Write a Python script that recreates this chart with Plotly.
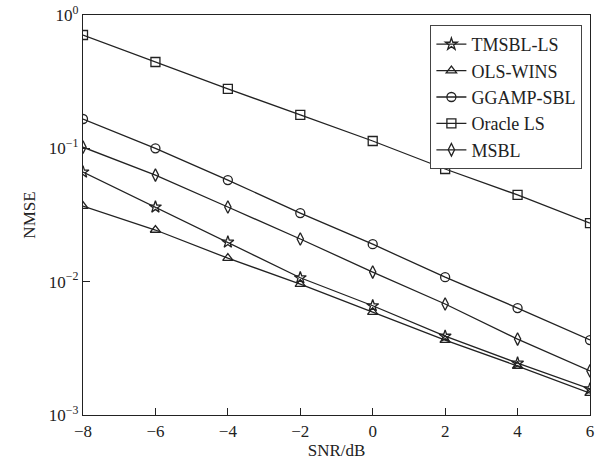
import plotly.graph_objects as go

snr = [-8, -6, -4, -2, 0, 2, 4, 6]
tmsbl_ls = [0.0664, 0.0363, 0.0198, 0.0107, 0.0066, 0.0039, 0.00245, 0.00157]
ols_wins = [0.0369, 0.0244, 0.0150, 0.0096, 0.0059, 0.00365, 0.00233, 0.00146]
ggamp_sbl = [0.166, 0.100, 0.0578, 0.0327, 0.0191, 0.0108, 0.00634, 0.00365]
oracle_ls = [0.708, 0.444, 0.279, 0.178, 0.1135, 0.070, 0.0447, 0.0275]
msbl = [0.102, 0.063, 0.0363, 0.0209, 0.0118, 0.0068, 0.00371, 0.00214]

y_tickvals = [1e-3, 1e-2, 1e-1, 1]
y_ticktext = ["10<sup>−3</sup>", "10<sup>−2</sup>", "10<sup>−1</sup>", "10<sup>0</sup>"]
x_ticktext = ["−8", "−6", "−4", "−2", "0", "2", "4", "6"]

series = [
    ("TMSBL-LS", tmsbl_ls, "star-open"),
    ("OLS-WINS", ols_wins, "triangle-up-open"),
    ("GGAMP-SBL", ggamp_sbl, "circle-open"),
    ("Oracle LS", oracle_ls, "square-open"),
    ("MSBL", msbl, "diamond-tall-open"),
]

fig = go.Figure()
for name, vals, sym in series:
    fig.add_trace(go.Scatter(
        x=snr, y=vals, name=name, mode="lines+markers",
        line=dict(color="#222222", width=1.3),
        marker=dict(symbol=sym, size=9, color="#222222", line=dict(width=1.3, color="#222222")),
    ))

font = "Liberation Serif, Times New Roman, serif"
fig.update_layout(
    width=603, height=461,
    margin=dict(l=83, r=13, t=15, b=46, autoexpand=False),
    paper_bgcolor="white", plot_bgcolor="white",
    font=dict(family=font, size=16, color="#222222"),
    showlegend=True,
    legend=dict(
        x=0.985, xanchor="right", y=0.975, yanchor="top",
        bordercolor="#444444", borderwidth=1, bgcolor="white",
        font=dict(family=font, size=18, color="#222222"),
        tracegroupgap=0, itemwidth=30,
    ),
)
fig.update_xaxes(
    range=[-8, 6], tickvals=snr, ticktext=x_ticktext, ticks="inside", ticklen=7, tickcolor="#222222",
    showline=True, linecolor="#222222", linewidth=1.3, mirror=True, showgrid=False, automargin=False,
    zeroline=False, title=dict(text="SNR/dB", standoff=2, font=dict(size=17)), tickfont=dict(size=17),
)
fig.update_yaxes(
    type="log", range=[-3, 0], tickvals=y_tickvals, ticktext=y_ticktext,
    ticks="inside", ticklen=7, tickcolor="#222222", automargin=False,
    showline=True, linecolor="#222222", linewidth=1.3, mirror=True, showgrid=False,
    zeroline=False, title=dict(text="NMSE", standoff=8, font=dict(size=17)), tickfont=dict(size=17),
)
fig.write_html("out.html")
